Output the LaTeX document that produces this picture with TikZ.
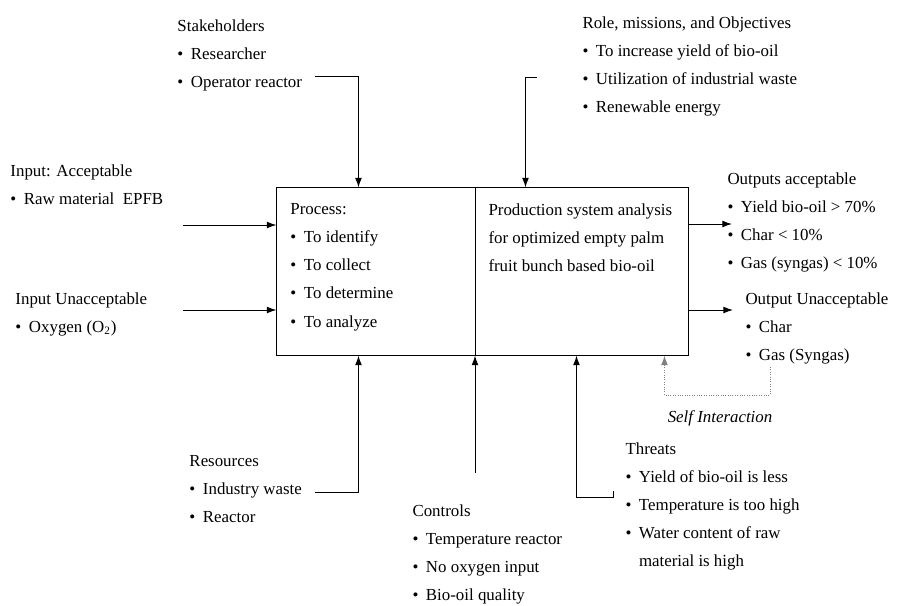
\documentclass[tikz,border=0pt]{standalone}
\usepackage{fontspec}
\setmainfont{Liberation Serif}
\usetikzlibrary{calc,arrows.meta}
\newcommand{\bpt}{\textbullet\hspace{0.45em}}
\begin{document}
\begin{tikzpicture}[x=0.025cm,y=-0.025cm,>={Latex[length=2.4mm,width=1.7mm]},line width=0.7pt]
  \tikzstyle{box}=[rectangle,inner sep=0pt,minimum height=4.175cm]
  \tikzstyle{lbl}=[anchor=north west,inner sep=0pt,align=left,font=\fontsize{12}{20}\selectfont]
  \useasboundingbox (0,0) rectangle (898,605);
  % the two halves of the system box
  \node[box,minimum width=4.95cm] (proc) at (376,271.5) {};
  \node[box,minimum width=5.325cm] (sys) at (581.5,271.5) {};
  \draw (proc.north west) rectangle (sys.south east);
  \draw (proc.north east) -- (proc.south east);
  \node[lbl] (proctxt) at (290,203) {Process:\\ \bpt To identify\\ \bpt To collect\\ \bpt To determine\\ \bpt To analyze};
  \node[lbl] (systxt) at (488,203) {Production system analysis\\ for optimized empty palm\\ fruit bunch based bio-oil};

  \node[lbl] (stake) at (177,19) {Stakeholders\\ \bpt Researcher\\ \bpt Operator reactor};
  \node[lbl] (roles) at (582,16) {Role, missions,\ and Objectives\\ \bpt To increase yield of bio-oil\\ \bpt Utilization of industrial waste\\ \bpt Renewable energy};
  \node[lbl] (inacc) at (10,164) {Input: Acceptable\\ \bpt Raw material\ \ EPFB};
  \node[lbl] (inunacc) at (15,292) {Input Unacceptable\\ \bpt Oxygen (O\textsubscript{2})};
  \node[lbl] (outacc) at (727,172) {Outputs acceptable\\ \bpt Yield bio-oil > 70\%\\ \bpt Char < 10\%\\ \bpt Gas (syngas) < 10\%};
  \node[lbl] (outunacc) at (745,292) {Output Unacceptable\\ \bpt Char\\ \bpt Gas (Syngas)};
  \node[lbl,anchor=center,font=\fontsize{12}{20}\selectfont\itshape] (self) at (720,418) {Self Interaction};
  \node[lbl] (res) at (189,455) {Resources\\ \bpt Industry waste\\ \bpt Reactor};
  \node[lbl] (ctrl) at (412,504) {Controls\\ \bpt Temperature reactor\\ \bpt No oxygen input\\ \bpt Bio-oil quality};
  \node[lbl] (thr) at (625,442) {Threats\\ \bpt Yield of bio-oil is less\\ \bpt Temperature is too high\\ \bpt Water content of raw\\ \phantom{\bpt}material is high};

  % free ends of the connectors
  \coordinate (stkend) at (315,76);
  \coordinate (rolend) at (537,77);
  \coordinate (inaend) at (183,225);
  \coordinate (inuend) at (183,310);
  \coordinate (oaend) at (732,224);
  \coordinate (ouend) at (733,310);
  \coordinate (siend) at (770,367);
  \coordinate (resend) at (315,492);
  \coordinate (ctlend) at (475,473);
  \coordinate (thrend) at (613,491);

  \draw[->] (stkend) -| ($(proc.north west)+(82,0)$);
  \draw[->] (rolend) -| ($(sys.north west)+(51,0)$);
  \draw[->] (inaend) -- (inaend -| proc.west);
  \draw[->] (inuend) -- (inuend -| proc.west);
  \draw[->] (oaend -| sys.east) -- (oaend);
  \draw[->] (ouend -| sys.east) -- (ouend);
  \draw[->,densely dotted,gray] (siend) -- ++(0,28) -| ($(sys.south west)+(190,0)$);
  \draw[->] (resend) -| ($(proc.south west)+(82,0)$);
  \draw[->] (ctlend) -- (ctlend |- proc.south);
  \draw[->] (thrend) -- ++(0,6) -| ($(sys.south west)+(102,0)$);
\end{tikzpicture}
\end{document}
